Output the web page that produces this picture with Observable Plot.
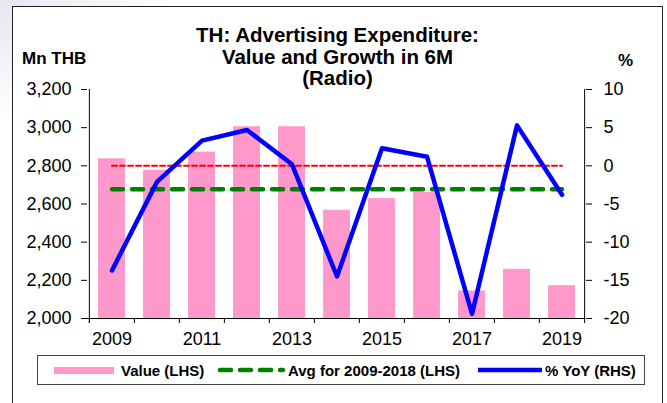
<!DOCTYPE html>
<html>
<head>
<meta charset="utf-8">
<script src="https://cdn.jsdelivr.net/npm/d3@7"></script>
<script src="https://cdn.jsdelivr.net/npm/@observablehq/plot@0.6"></script>
<style>
  html, body { margin: 0; padding: 0; background: #fff; overflow: hidden; }
  #wrap { position: relative; width: 667px; height: 403px; font-family: "Liberation Sans", Arial, sans-serif; color: #000; overflow: hidden; }
  #hazeTop { position: absolute; left: 0; top: 0; width: 180px; height: 6px; background: linear-gradient(to right, #e6e7f1, rgba(255,255,255,0)); }
  #hazeLeft { position: absolute; left: 0; top: 0; width: 12px; height: 120px; background: linear-gradient(to bottom, #e6e7f1, rgba(255,255,255,0)); }
  #frame { position: absolute; left: 12px; top: 6px; width: 651px; height: 430px; border: 1px solid #222; box-sizing: border-box; }
  #chart { position: absolute; left: 0; top: 0; }
  .title { position: absolute; left: 0; top: 24px; width: 675px; text-align: center; font-weight: bold; font-size: 20.5px; line-height: 21.5px; }
  .unit { position: absolute; font-weight: bold; font-size: 17px; line-height: 17px; white-space: nowrap; }
  #legendBox { position: absolute; left: 37px; top: 355px; width: 608px; height: 30px; border: 1px solid #444; box-sizing: border-box; }
  .lg { position: absolute; top: 363px; font-weight: bold; font-size: 15px; line-height: 15px; white-space: nowrap; }
  .sw { position: absolute; }
</style>
</head>
<body>
<div id="wrap">
  <div id="hazeTop"></div>
  <div id="hazeLeft"></div>
  <div id="frame"></div>
  <div id="chart"></div>
  <div class="title">TH: Advertising Expenditure:<br>Value and Growth in 6M<br>(Radio)</div>
  <div class="unit" style="left:22px; top:50px;">Mn THB</div>
  <div class="unit" style="left:618px; top:52px;">%</div>
  <div id="legendBox"></div>
  <div class="sw" style="left:54px; top:367px; width:60px; height:7px; background:#ff99cc;"></div>
  <div class="lg" style="left:121px;">Value (LHS)</div>
  <svg class="sw" style="left:215px; top:362px;" width="72" height="16">
    <line x1="5" y1="8" x2="68" y2="8" stroke="#008000" stroke-width="4.5" stroke-dasharray="11,9" stroke-linecap="round"></line>
  </svg>
  <div class="lg" style="left:288px;">Avg for 2009-2018 (LHS)</div>
  <svg class="sw" style="left:476px; top:362px;" width="68" height="16">
    <line x1="2" y1="8" x2="66" y2="8" stroke="#0000ff" stroke-width="4.5"></line>
  </svg>
  <div class="lg" style="left:545px;">% YoY (RHS)</div>
</div>
<script>
// ---- data ----
const years   = ["2009","2010","2011","2012","2013","2014","2015","2016","2017","2018","2019"];
const values  = [2837, 2777, 2872, 3005, 3005, 2567, 2628, 2660, 2144, 2258, 2172]; // Mn THB (LHS)
const yoy     = [-13.7, -2.1, 3.3, 4.7, 0.2, -14.5, 2.3, 1.2, -19.4, 5.3, -3.8];      // % (RHS)
const avg2009_2018 = 2677;                                                            // Mn THB (LHS)
const lhsDomain = [2000, 3200];
const rhsDomain = [-20, 10];
const lhsTicks  = [2000, 2200, 2400, 2600, 2800, 3000, 3200];
const rhsTicks  = [-20, -15, -10, -5, 0, 5, 10];
const xLabels   = ["2009","2011","2013","2015","2017","2019"];

// map RHS (%) values onto the LHS scale
const toL = v => lhsDomain[0] + (v - rhsDomain[0]) * (lhsDomain[1] - lhsDomain[0]) / (rhsDomain[1] - rhsDomain[0]);
const fromL = v => rhsDomain[0] + (v - lhsDomain[0]) * (rhsDomain[1] - rhsDomain[0]) / (lhsDomain[1] - lhsDomain[0]);

const data = years.map((year, i) => ({year, value: values[i], yoy: yoy[i]}));

const W = 667, H = 403, mL = 87, mR = 82, mT = 89, mB = 85;
const step = (W - mL - mR) / years.length;
const unitsPerPx = (lhsDomain[1] - lhsDomain[0]) / (H - mT - mB);
const tickLen = 5;
const font = "'Liberation Sans', Arial, sans-serif";

const chart = Plot.plot({
  width: W, height: H,
  marginLeft: mL, marginRight: mR, marginTop: mT, marginBottom: mB,
  style: {fontFamily: font, color: "#000", background: "transparent", overflow: "visible"},
  x: {type: "band", domain: years, padding: 0, axis: null, label: null},
  y: {domain: lhsDomain, axis: null, label: null},
  marks: [
    Plot.barY(data, {x: "year", y1: lhsDomain[0], y2: "value", fill: "#ff99cc",
      insetLeft: step * 0.2, insetRight: step * 0.2}),
    Plot.lineY(data, {x: "year", y: () => toL(0), stroke: "#ff0000", strokeWidth: 2, strokeDasharray: "5,3"}),
    Plot.lineY(data, {x: "year", y: () => avg2009_2018, stroke: "#008000", strokeWidth: 4.5,
      strokeDasharray: "11,9", strokeLinecap: "round"}),
    Plot.lineY(data, {x: "year", y: d => toL(d.yoy), stroke: "#0000ff", strokeWidth: 4.5, strokeLinejoin: "round"}),
    // axis lines
    Plot.ruleY([lhsDomain[0]], {stroke: "#000", strokeWidth: 1}),
    Plot.ruleX([years[0]], {x: d => d, dx: -step / 2, y1: lhsDomain[0] - tickLen * unitsPerPx, y2: lhsDomain[1], stroke: "#000"}),
    Plot.ruleX([years[years.length - 1]], {x: d => d, dx: step / 2, y1: lhsDomain[0] - tickLen * unitsPerPx, y2: lhsDomain[1], stroke: "#000"}),
    // x tick marks at category boundaries
    Plot.ruleX(years, {x: d => d, dx: -step / 2, y1: lhsDomain[0], y2: lhsDomain[0] - tickLen * unitsPerPx, stroke: "#000"}),
    Plot.axisX({ticks: xLabels, tickSize: 0, tickPadding: 13.5, fontSize: 18, fontFamily: font, label: null}),
    Plot.axisY({anchor: "left", ticks: lhsTicks, tickSize: 6, tickPadding: 10, fontSize: 18, fontFamily: font,
      tickFormat: d3.format(","), label: null}),
    Plot.axisY({anchor: "right", ticks: rhsTicks.map(toL), tickSize: 6, tickPadding: 12, fontSize: 18, fontFamily: font,
      tickFormat: d => String(Math.round(fromL(d))), label: null})
  ]
});
document.getElementById("chart").appendChild(chart);
</script>
</body>
</html>
